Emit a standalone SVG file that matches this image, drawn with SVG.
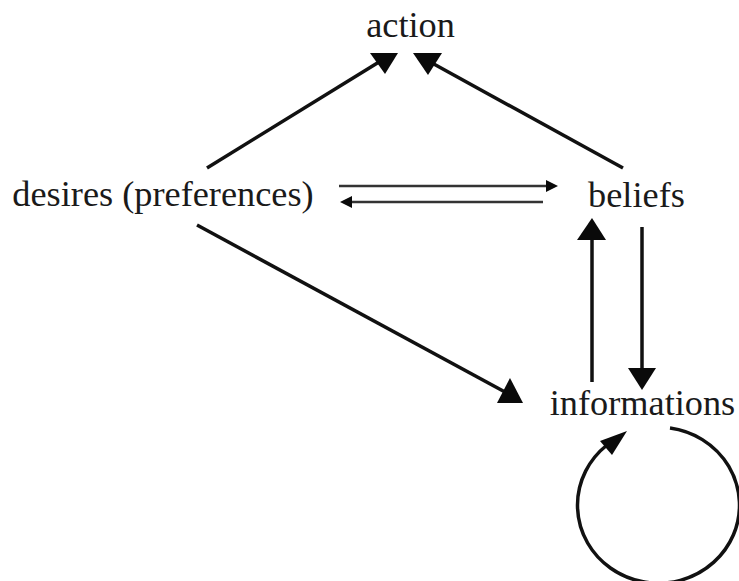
<svg xmlns="http://www.w3.org/2000/svg" width="739" height="581" viewBox="0 0 739 581">
<style>
.lbl{font-family:"Liberation Serif","Times New Roman",serif;font-size:36.3px;fill:#1a1a1a;text-anchor:middle}
.ln{stroke:#111;stroke-width:3.5;fill:none;stroke-linecap:butt}
.thin{stroke:#333;stroke-width:2.5;fill:none}
.hd{fill:#0a0a0a}
</style>
<rect width="739" height="581" fill="#fff"/>
<g id="connectors">
<line class="ln" x1="207" y1="168" x2="379" y2="62"/>
<polygon class="hd" points="370,53 398,53 385,74"/>
<line class="ln" x1="623" y1="168" x2="432" y2="63"/>
<polygon class="hd" points="413,53 442,53 428,75"/>
<line class="thin" x1="339" y1="186" x2="548" y2="186"/>
<polygon class="hd" points="558,186 546,180 546,192"/>
<line class="thin" x1="543" y1="202" x2="350" y2="202"/>
<polygon class="hd" points="340,202 352,196 352,208"/>
<line class="ln" x1="592" y1="382" x2="592" y2="238"/>
<polygon class="hd" points="592,218 577,240 606,240"/>
<line class="ln" x1="642" y1="227" x2="642" y2="370"/>
<polygon class="hd" points="628,368 656,368 642,390"/>
<line class="ln" x1="197" y1="225" x2="505" y2="392"/>
<polygon class="hd" points="497,403 523,403 510,378"/>
<path class="ln" d="M 670 428 A 81 78 0 1 1 607 445"/>
<polygon class="hd" points="600,441 627,431 612,455"/>
</g>
<g id="action"><text class="lbl" x="410.5" y="37">action</text></g>
<g id="desires"><text class="lbl" x="163" y="206">desires (preferences)</text></g>
<g id="beliefs"><text class="lbl" x="636.5" y="207">beliefs</text></g>
<g id="informations"><text class="lbl" x="642.5" y="415">informations</text></g>
</svg>
